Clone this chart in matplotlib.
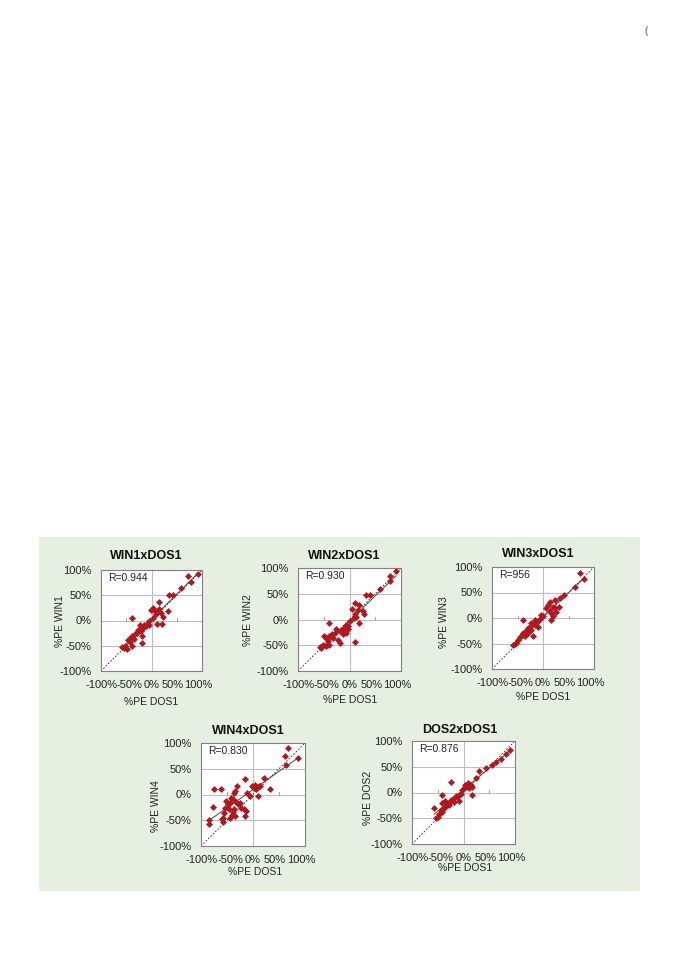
import numpy as np
import matplotlib
matplotlib.use("Agg")
import matplotlib.pyplot as plt
from matplotlib.patches import Rectangle

plt.rcParams['font.family'] = ['Liberation Sans', 'DejaVu Sans']

# %PE values (x = DOS1, y = other method)
win1_x = [93, 72, 78, 59, 42, 34, 14, 2, -1, 7, 15, 19, 9, 32, 22, 2, -38, 10, 20, -5,
          -8, -11, -17, -23, -21, -28, -26, -33, -38, -43, -46, -35, -18, -19, -42, -52,
          -55, -48, -58, -38, -5, -15]
win1_y = [92, 89, 77, 64, 51, 50, 36, 25, 20, 18, 22, 15, 12, 18, 7, 5, 5, -7, -7, -1,
          -7, -11, -14, -8, -20, -24, -18, -27, -31, -34, -39, -37, -31, -44, -42, -50,
          -54, -57, -52, -50, -9, -9]

win2_x = [90, 78, 78, 60, 40, 32, 10, 19, 5, 16, 26, 10, 13, 29, 19, 0, -6, -10, -14, -19,
          -26, -29, -34, -39, -45, -49, -32, -23, -19, -42, -52, -55, -58, -45, -39, -6,
          -3, -13, -40, 10, -3, 8]
win2_y = [95, 84, 75, 60, 47, 47, 32, 28, 21, 18, 16, 10, 5, 11, -6, -3, -10, -16, -21, -23,
          -19, -26, -29, -32, -36, -32, -36, -39, -45, -42, -49, -55, -54, -52, -49, -26,
          -19, -29, -6, -43, -12, 2]

win3_x = [73, 81, 63, 42, 34, 23, 13, 10, 19, 23, 6, 13, 16, 26, 32, 19, 16, -39, -3, -6,
          -10, -13, -16, -23, -26, -29, -32, -36, -39, -42, -45, -49, -52, -55, -58, -36,
          -29, -19, -24, -16, -10, 0]
win3_y = [89, 77, 61, 45, 40, 35, 32, 25, 22, 19, 19, 14, 9, 12, 22, 3, -4, -4, 6, -1,
          -6, -10, -14, -10, -17, -20, -23, -27, -30, -34, -38, -43, -49, -51, -53, -36,
          -30, -36, -23, -4, -17, 3]

win4_x = [67, 61, 86, 63, 22, 32, -16, -30, -75, -61, -2, 3, 11, 14, 1, 6, -12, 10, -34, -37,
          -42, -39, -52, -44, -54, -77, -25, -23, -18, -13, -16, -37, -41, -39, -55, -57,
          -60, -58, -84, -84, -47, -5, -32, -28, -49, -44, -35]
win4_y = [90, 75, 70, 58, 32, 11, 31, 16, 10, 11, 17, 19, 17, 17, 13, 10, 3, -2, 6, 3,
          -6, -8, -13, -16, -26, -24, -16, -26, -29, -32, -41, -29, -39, -34, -35, -45,
          -48, -54, -50, -58, -29, -3, -15, -19, -19, -45, -42]

dos2_x = [90, 82, 72, 63, 56, 43, 30, 24, -25, 11, 8, 14, 5, 17, 11, 8, 3, 17, -2, -5,
          -8, -12, -15, -21, -25, -18, -8, -41, -35, -42, -34, -29, -37, -44, -57, -47,
          -50, -54, -41, -28, 1]
dos2_y = [82, 75, 65, 59, 54, 48, 41, 28, 21, 17, 14, 14, 11, 11, 8, 19, 15, -4, 5, -2,
          -5, -8, -6, -12, -15, -18, -17, -4, -17, -21, -26, -25, -31, -34, -31, -41,
          -47, -50, -37, -21, 9]

titles = ["WIN1xDOS1", "WIN2xDOS1", "WIN3xDOS1", "WIN4xDOS1", "DOS2xDOS1"]
ylabels = ["%PE WIN1", "%PE WIN2", "%PE WIN3", "%PE WIN4", "%PE DOS2"]
r_texts = ["R=0.944", "R=0.930", "R=956", "R=0.830", "R=0.876"]
series = [(win1_x, win1_y), (win2_x, win2_y), (win3_x, win3_y),
          (win4_x, win4_y), (dos2_x, dos2_y)]
tick_vals = [-100, -50, 0, 50, 100]
tick_labels = ["-100%", "-50%", "0%", "50%", "100%"]

# layout in pixels: axes box (left, top, w, h), title centre, ylabel centre, xlabel centre
boxes = [(101, 570, 101, 101), (298, 568, 103, 103), (492, 567, 102, 102),
         (201, 743, 104, 103), (412, 741, 103, 103)]
title_pos = [(146, 556), (344, 556), (538, 554), (248, 731), (460, 730)]
ylab_pos = [(60, 621), (248, 620), (444, 622), (156, 806), (368, 798)]
xlab_pos = [(151, 702), (350, 700), (543, 697), (255, 872), (465, 868)]

W, H = 678, 960
fig = plt.figure(figsize=(W / 100, H / 100), dpi=100)


def fx(x):
    return x / W


def fy(y):
    return 1 - y / H


fig.patches.append(Rectangle((fx(39), fy(890.5)), (640 - 39) / W, (890.5 - 537) / H,
                             transform=fig.transFigure, facecolor='#E7EFE3',
                             edgecolor='none', zorder=-5))

red = '#B3161C'
grey = '#BDBDBD'

for i in range(5):
    left, top, w, h = boxes[i]
    ax = fig.add_axes([fx(left), fy(top + h), w / W, h / H])
    ax.set_facecolor('white')
    xs, ys = series[i]

    ax.set_xlim(-100, 100)
    ax.set_ylim(-100, 100)

    for v in [-50, 0, 50]:
        ax.axhline(v, color=grey, lw=0.8, zorder=1)
    ax.axvline(0, color=grey, lw=0.8, zorder=1)
    for v in [-50, 50]:
        ax.plot([v, v], [0, 4], color='#A0A0A0', lw=0.7, zorder=1)

    ax.plot([-100, 100], [-100, 100], color='#222222', lw=0.6,
            ls=(0, (2.0, 2.0)), zorder=2)
    coef = np.polyfit(xs, ys, 1)
    xx = np.array([min(xs), max(xs)])
    ax.plot(xx, np.polyval(coef, xx), color='#444444', lw=0.7, zorder=2)

    ax.plot(xs, ys, 'D', ms=3.0, mew=0.5, color=red, mec=red, zorder=3)

    ax.set_xticks([])
    ax.set_yticks(tick_vals)
    ax.set_yticklabels(tick_labels)
    ax.tick_params(axis='y', length=0, pad=7, labelsize=8, labelcolor='#222222')
    for s in ax.spines.values():
        s.set_color('#808080')
        s.set_linewidth(0.8)

    offsets = [1, 3, 0, -4, -4]
    for v, lab, dx in zip(tick_vals, tick_labels, offsets):
        ax.annotate(lab, xy=(v, 0), xycoords=('data', 'axes fraction'),
                    xytext=(dx * 0.72, -10), textcoords='offset points',
                    ha='center', va='center', fontsize=8, color='#222222')

    ax.annotate(r_texts[i], xy=(0, 1), xycoords='axes fraction', xytext=(5, -2),
                textcoords='offset points', ha='left', va='top', fontsize=7.5,
                color='#222222')

    fig.text(fx(title_pos[i][0]), fy(title_pos[i][1]), titles[i], ha='center',
             va='center', fontsize=9, fontweight='bold', color='#111111')
    fig.text(fx(ylab_pos[i][0]), fy(ylab_pos[i][1]), ylabels[i], ha='center',
             va='center', rotation=90, fontsize=7.5, color='#222222')
    fig.text(fx(xlab_pos[i][0]), fy(xlab_pos[i][1]), "%PE DOS1", ha='center',
             va='center', fontsize=7.5, color='#222222')

fig.text(fx(646), fy(31), '(', ha='center', va='center', fontsize=7,
         fontweight='bold', color='#8A8A8A')

fig.savefig('out.png', dpi=100)
